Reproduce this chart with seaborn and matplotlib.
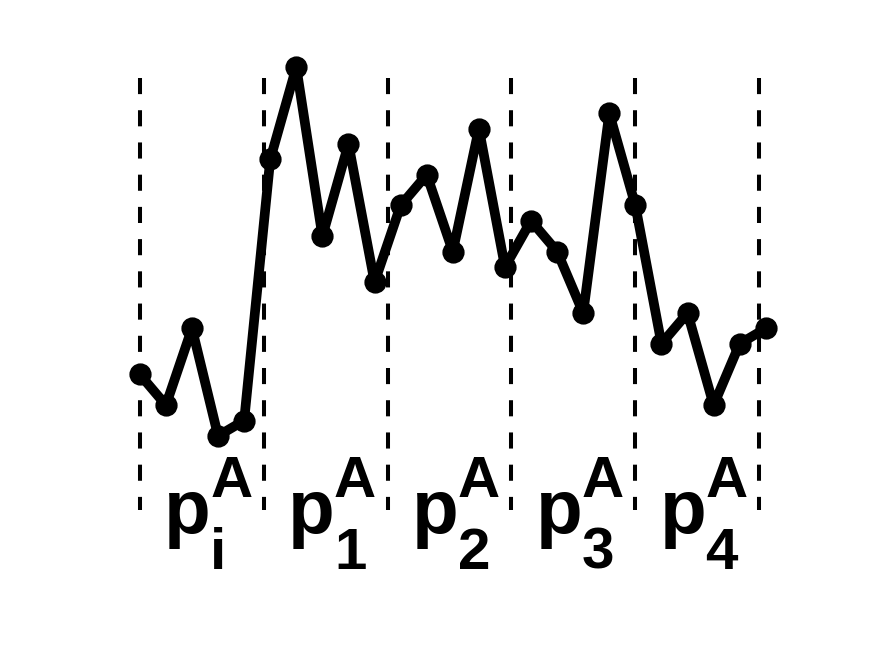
import numpy as np
import matplotlib
matplotlib.use("Agg")
import matplotlib.pyplot as plt
import seaborn as sns

sns.set_style("white")
plt.rcParams['font.family'] = ['Liberation Sans', 'DejaVu Sans']

# 数据
x_pos = list(range(1, 26))
y_val = [4, 2, 7, 0, 1, 18, 24, 13, 19, 10, 15, 17, 12, 20, 11, 14, 12, 8, 21, 15, 6, 8, 2, 6, 7]
bounds = [1, 5.75, 10.5, 15.25, 20, 24.75]
sub_labels = ['i', '1', '2', '3', '4']

fig = plt.figure(figsize=(8.75, 6.56), dpi=100)
ax = fig.add_axes([0.13, 0.11, 0.775, 0.815])

# 虚线分隔
for b in bounds:
    ax.plot([b, b], [23.28, -4.85], color='black', lw=2.9,
            linestyle=(0, (4, 4)), zorder=1)

sns.lineplot(x=x_pos, y=y_val, ax=ax, color='black', lw=7,
             marker='o', markersize=14, markeredgewidth=2,
             markeredgecolor='black', markerfacecolor='black', zorder=3)

# 标签 p_i^A ...
for k, s in enumerate(sub_labels):
    c = (bounds[k] + bounds[k + 1]) / 2
    ax.text(c - 1.448, -6.31, 'p', fontsize=55, fontweight='bold', color='black',
            ha='left', va='baseline')
    ax.text(c + 0.318, -3.97, 'A', fontsize=42, fontweight='bold', color='black',
            ha='left', va='baseline')
    ax.text(c + 0.318, -8.65, s, fontsize=42, fontweight='bold', color='black',
            ha='left', va='baseline')

ax.set_xlim(0, 26)
ax.set_ylim(-9.63, 25.17)
ax.axis('off')

plt.savefig('out.png', dpi=100)
